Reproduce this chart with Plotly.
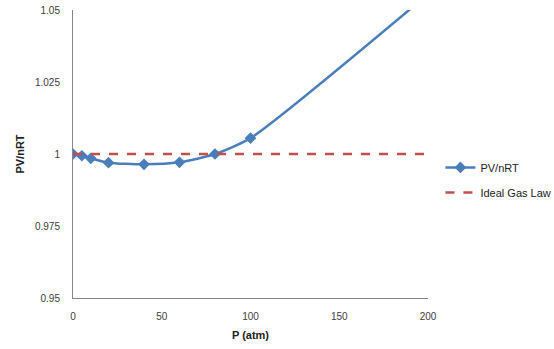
import plotly.graph_objects as go

# Measured compressibility factor vs pressure
pressure_atm = [0, 5, 10, 20, 40, 60, 80, 100, 200]
pv_nrt = [1.0, 0.9994, 0.9985, 0.997, 0.9964, 0.9971, 1.0, 1.0055, 1.0555]

# Ideal gas reference line
ideal_p = [0, 200]
ideal_z = [1.0, 1.0]

x_ticks = [0, 50, 100, 150, 200]
y_ticks = [0.95, 0.975, 1.0, 1.025, 1.05]
y_tick_text = ["0.95", "0.975", "1", "1.025", "1.05"]

font_family = "Liberation Sans, Arial, sans-serif"
tick_color = "#404040"
axis_color = "#868686"

fig = go.Figure()
fig.add_trace(go.Scatter(
    x=pressure_atm, y=pv_nrt, name="PV/nRT",
    mode="lines+markers",
    line=dict(color="#4A7EBB", width=2.5, shape="spline", smoothing=0.6),
    marker=dict(symbol="diamond", size=9, color="#4A7EBB"),
    legendgroup="a",
))
fig.add_trace(go.Scatter(
    x=ideal_p, y=ideal_z, name="Ideal Gas Law",
    mode="lines",
    line=dict(color="#C0504D", width=2.5, dash="dash"),
    legendgroup="b",
))

fig.update_layout(
    width=554, height=349,
    margin=dict(l=73, r=126, t=10, b=51, autoexpand=False),
    paper_bgcolor="white", plot_bgcolor="white",
    font=dict(family=font_family, size=10, color=tick_color),
    showlegend=True,
    legend=dict(
        x=1.035, y=0.41, xanchor="left", yanchor="middle",
        font=dict(size=11, color="#222222"),
        tracegroupgap=6, itemwidth=30,
        bgcolor="rgba(0,0,0,0)",
    ),
)
fig.update_xaxes(
    range=[0, 200], tickvals=x_ticks, showgrid=False, zeroline=False,
    showline=True, linecolor=axis_color, linewidth=1,
    ticks="", ticklabelstandoff=9,
    title=dict(text="<b>P (atm)</b>", font=dict(size=11, color="#222222"), standoff=10),
)
fig.update_yaxes(
    range=[0.95, 1.05], tickvals=y_ticks, ticktext=y_tick_text,
    showgrid=False, zeroline=False,
    showline=True, linecolor=axis_color, linewidth=1,
    ticks="", ticklabelstandoff=10,
    title=dict(text="<b>PV/nRT</b>", font=dict(size=11, color="#222222"), standoff=8),
)

fig.write_html("out.html")
